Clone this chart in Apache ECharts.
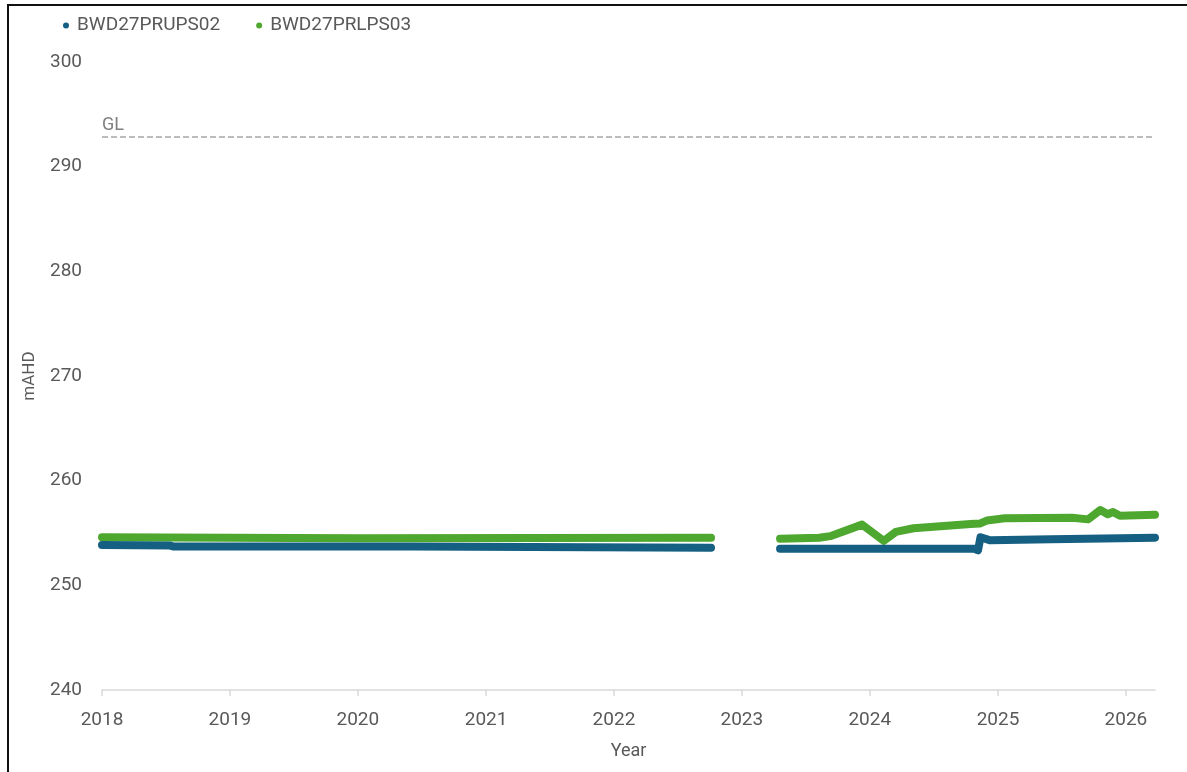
<!DOCTYPE html>
<html>
<head>
<meta charset="utf-8">
<script src="https://cdn.jsdelivr.net/npm/echarts@6/dist/echarts.min.js"></script>
<style>
  html, body { margin: 0; padding: 0; background: #fff; overflow: hidden; }
  #chart { width: 1187px; height: 772px; }
  .frame {
    position: absolute;
    left: 7px;
    top: 4px;
    width: 1180px;
    height: 768px;
    border-left: 2px solid #111;
    border-top: 2px solid #111;
    pointer-events: none;
  }
</style>
</head>
<body>
<div id="chart"></div>
<div class="frame"></div>
<script>
  // series names
  const seriesNames = ['BWD27PRUPS02', 'BWD27PRLPS03'];
  const seriesColors = ['#156082', '#4EA72E'];

  // BWD27PRUPS02 (upper piezo), null = gap in record
  const upsDates = ['2018-01-01', '2018-07-15', '2018-07-25', '2020-06-01', '2022-10-05', null,
    '2023-04-20', '2024-06-01', '2024-10-25', '2024-11-05', '2024-11-12', '2024-12-10', '2025-06-01', '2026-03-25'];
  const upsValues = [253.85, 253.8, 253.7, 253.7, 253.6, null,
    253.5, 253.5, 253.5, 253.35, 254.6, 254.3, 254.4, 254.55];

  // BWD27PRLPS03 (lower piezo)
  const lpsDates = ['2018-01-01', '2020-01-01', '2022-10-05', null,
    '2023-04-20', '2023-08-10', '2023-09-10', '2023-12-10', '2024-02-10', '2024-03-15', '2024-05-05',
    '2024-10-15', '2024-11-10', '2024-12-01', '2025-01-20', '2025-08-01', '2025-09-15', '2025-10-20',
    '2025-11-10', '2025-11-25', '2025-12-15', '2026-03-25'];
  const lpsValues = [254.6, 254.5, 254.55, null,
    254.45, 254.55, 254.7, 255.8, 254.25, 255.1, 255.45,
    255.85, 255.9, 256.2, 256.4, 256.45, 256.3, 257.2,
    256.8, 257.0, 256.65, 256.75];

  const groundLevel = 292.9;
  const yearTicks = [2018, 2019, 2020, 2021, 2022, 2023, 2024, 2025, 2026];
  const xStart = '2018-01-01';
  const xEnd = '2026-03-25';

  function ts(d){
    const p = d.split('-').map(Number);
    return new Date(p[0], p[1] - 1, p[2]).getTime();
  }
  function pairs(dates, values){
    return dates.map((d, i) => d === null ? [null, null] : [ts(d), values[i]]);
  }

  const yearStamps = yearTicks.map(y => new Date(y, 0, 1).getTime());
  const textColor = '#595959';

  let myChart = echarts.init(document.getElementById('chart'));
  let option = {
    animation: false,
    textStyle: { fontFamily: 'Roboto' },
    legend: {
      left: 58,
      top: 11,
      icon: 'circle',
      itemWidth: 6,
      itemHeight: 6,
      itemGap: 36,
      textStyle: { color: textColor, fontSize: 19, fontFamily: 'Roboto', padding: [0, 0, 0, 3] },
      data: seriesNames
    },
    grid: { left: 102, right: 32, top: 62, bottom: 82 },
    xAxis: {
      type: 'value',
      min: ts(xStart),
      max: ts(xEnd),
      name: 'Year',
      nameLocation: 'middle',
      nameGap: 52,
      nameTextStyle: { color: textColor, fontSize: 18 },
      axisLine: { lineStyle: { color: '#d9d9d9', width: 1.5 } },
      axisTick: { show: true, length: 6, customValues: yearStamps, lineStyle: { color: '#d9d9d9', width: 1.5 } },
      axisLabel: {
        customValues: yearStamps,
        color: textColor,
        fontSize: 19,
        margin: 21,
        formatter: v => String(new Date(v).getFullYear())
      },
      splitLine: { show: false }
    },
    yAxis: {
      type: 'value',
      min: 240,
      max: 300,
      interval: 10,
      name: 'mAHD',
      nameLocation: 'middle',
      nameGap: 64,
      nameTextStyle: { color: textColor, fontSize: 17 },
      axisLine: { show: false },
      axisTick: { show: false },
      axisLabel: { color: textColor, fontSize: 19, margin: 20 },
      splitLine: { show: false }
    },
    series: [
      {
        name: seriesNames[0],
        type: 'line',
        data: pairs(upsDates, upsValues),
        showSymbol: false,
        connectNulls: false,
        itemStyle: { color: seriesColors[0] },
        lineStyle: { color: seriesColors[0], width: 8, cap: 'round', join: 'round' },
        z: 3
      },
      {
        name: seriesNames[1],
        type: 'line',
        data: pairs(lpsDates, lpsValues),
        showSymbol: false,
        connectNulls: false,
        itemStyle: { color: seriesColors[1] },
        lineStyle: { color: seriesColors[1], width: 8, cap: 'round', join: 'round' },
        z: 2,
        markLine: {
          silent: true,
          symbol: ['none', 'none'],
          lineStyle: { color: '#a6a6a6', type: [6, 3], width: 1.5 },
          label: {
            show: true,
            position: 'insideStartTop',
            formatter: 'GL',
            color: '#7f7f7f',
            fontSize: 18,
            distance: [0, 2]
          },
          data: [{ yAxis: groundLevel }]
        }
      }
    ]
  };
  option && myChart.setOption(option);
</script>
</body>
</html>
